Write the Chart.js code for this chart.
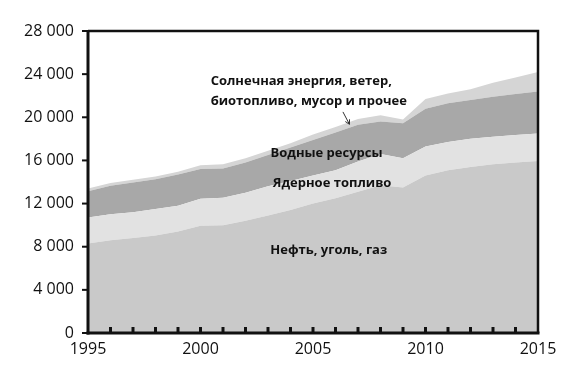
<!DOCTYPE html>
<html>
<head>
<meta charset="utf-8">
<script src="https://cdn.jsdelivr.net/npm/chart.js@4"></script>
<style>
html,body{margin:0;padding:0;background:#fff;}
#wrap{width:580px;height:382px;position:relative;}
</style>
</head>
<body>
<div id="wrap"><canvas id="c" width="580" height="382"></canvas></div>
<script>
const years = [1995,1996,1997,1998,1999,2000,2001,2002,2003,2004,2005,2006,2007,2008,2009,2010,2011,2012,2013,2014,2015];
const fossil  = [8300,8600,8800,9050,9400,9950,10000,10400,10900,11400,12000,12500,13100,13700,13500,14600,15100,15400,15650,15800,15950];
const nuclear = [2400,2400,2400,2450,2400,2500,2550,2600,2700,2700,2600,2600,2800,2900,2700,2700,2600,2600,2550,2550,2550];
const hydro   = [2450,2650,2750,2750,2900,2750,2700,2800,2900,3100,3300,3500,3400,3000,3250,3500,3600,3600,3700,3800,3900];
const other   = [250,250,250,250,250,350,400,400,400,400,500,500,550,600,350,900,900,1000,1300,1550,1800];
const yTicks = [0,4000,8000,12000,16000,20000,24000,28000];
const xLabelYears = [1995,2000,2005,2010,2015];

// annotation texts anchored in data coordinates [year, value]
const notes = [
  {lines:["Солнечная энергия, ветер,","биотопливо, мусор и прочее"], x:2000.45, y:[23350,21500], align:'left'},
  {lines:["Водные ресурсы"], x:2005.6, y:[16650], align:'center'},
  {lines:["Ядерное топливо"], x:2005.85, y:[13850], align:'center'},
  {lines:["Нефть, уголь, газ"], x:2005.7, y:[7700], align:'center'}
];
const arrow = {from:[2006.33,20500], to:[2006.62,19350]};

const FONT = "'Open Sans', sans-serif";

function fmt(v){ return String(v).replace(/\B(?=(\d{3})+(?!\d))/g,' '); }

const decor = {
  id:'decor',
  afterDatasetsDraw(chart){
    const ctx = chart.ctx, a = chart.chartArea;
    const xs = chart.scales.x, ys = chart.scales.y;
    const px = v => xs.left + (v - years[0]) / (years[years.length-1]-years[0]) * (xs.right - xs.left);
    ctx.save();
    // frame: top and right
    ctx.strokeStyle = '#111';
    ctx.lineWidth = 2.5;
    ctx.beginPath();
    ctx.moveTo(a.left, a.top);
    ctx.lineTo(a.right, a.top);
    ctx.lineTo(a.right, a.bottom);
    ctx.stroke();
    // left axis
    ctx.lineWidth = 3;
    ctx.beginPath();
    ctx.moveTo(a.left, a.top-1);
    ctx.lineTo(a.left, a.bottom+1.5);
    ctx.stroke();
    // bottom axis
    ctx.beginPath();
    ctx.moveTo(a.left-1.5, a.bottom);
    ctx.lineTo(a.right+1.5, a.bottom);
    ctx.stroke();
    // inward x ticks
    ctx.lineWidth = 3;
    years.forEach(yr=>{
      if (yr===years[0] || yr===years[years.length-1]) return;
      const x = px(yr);
      ctx.beginPath();
      ctx.moveTo(x, a.bottom);
      ctx.lineTo(x, a.bottom-6);
      ctx.stroke();
    });
    // y ticks outward
    ctx.lineWidth = 2;
    yTicks.forEach(v=>{
      const y = ys.getPixelForValue(v);
      ctx.beginPath();
      ctx.moveTo(a.left-6, y);
      ctx.lineTo(a.left, y);
      ctx.stroke();
    });
    // annotations
    ctx.fillStyle = '#111';
    ctx.font = "bold 13px " + FONT;
    ctx.textBaseline = 'middle';
    notes.forEach(n=>{
      ctx.textAlign = n.align;
      n.lines.forEach((t,i)=>{
        ctx.fillText(t, px(n.x), ys.getPixelForValue(n.y[i]));
      });
    });
    // arrow
    const x1 = px(arrow.from[0]), y1 = ys.getPixelForValue(arrow.from[1]);
    const x2 = px(arrow.to[0]), y2 = ys.getPixelForValue(arrow.to[1]);
    ctx.strokeStyle = '#333';
    ctx.lineWidth = 1;
    ctx.beginPath();
    ctx.moveTo(x1,y1); ctx.lineTo(x2,y2); ctx.stroke();
    const ang = Math.atan2(y2-y1, x2-x1);
    ctx.beginPath();
    ctx.moveTo(x2 - 5*Math.cos(ang-0.5), y2 - 5*Math.sin(ang-0.5));
    ctx.lineTo(x2,y2);
    ctx.lineTo(x2 - 5*Math.cos(ang+0.5), y2 - 5*Math.sin(ang+0.5));
    ctx.stroke();
    ctx.restore();
  }
};

function ds(label, data, color, fill){
  return {label, data, backgroundColor: color, borderColor: color, borderWidth: 0,
          pointRadius: 0, fill, tension: 0};
}

new Chart(document.getElementById('c'), {
  type: 'line',
  data: {
    labels: years,
    datasets: [
      ds('Нефть, уголь, газ', fossil, '#c9c9c9', 'origin'),
      ds('Ядерное топливо', nuclear, '#e2e2e2', '-1'),
      ds('Водные ресурсы', hydro, '#a8a8a8', '-1'),
      ds('Солнечная энергия, ветер, биотопливо, мусор и прочее', other, '#d5d5d5', '-1')
    ]
  },
  options: {
    responsive: false,
    animation: false,
    layout: {padding: {top: 31, right: 42, left: 0, bottom: 0}},
    plugins: {legend: {display: false}, tooltip: {enabled: false}},
    elements: {line: {borderWidth: 0}},
    scales: {
      x: {
        offset: false,
        grid: {display: false, drawTicks: false},
        border: {display: false},
        afterFit: s => { s.height = 49; },
        ticks: {
          autoSkip: false, maxRotation: 0, padding: 7, color: '#111',
          font: {family: FONT, size: 16},
          callback: function(v){ const yr = years[v]; return xLabelYears.includes(yr) ? String(yr) : ''; }
        }
      },
      y: {
        stacked: true,
        min: 0, max: 28000,
        afterFit: s => { s.width = 88; },
        grid: {display: false, drawTicks: false},
        border: {display: false},
        afterBuildTicks: s => { s.ticks = yTicks.map(v=>({value:v})); },
        ticks: {
          padding: 14, color: '#111',
          font: {family: FONT, size: 16},
          callback: v => fmt(v)
        }
      }
    }
  },
  plugins: [decor]
});
</script>
</body>
</html>
